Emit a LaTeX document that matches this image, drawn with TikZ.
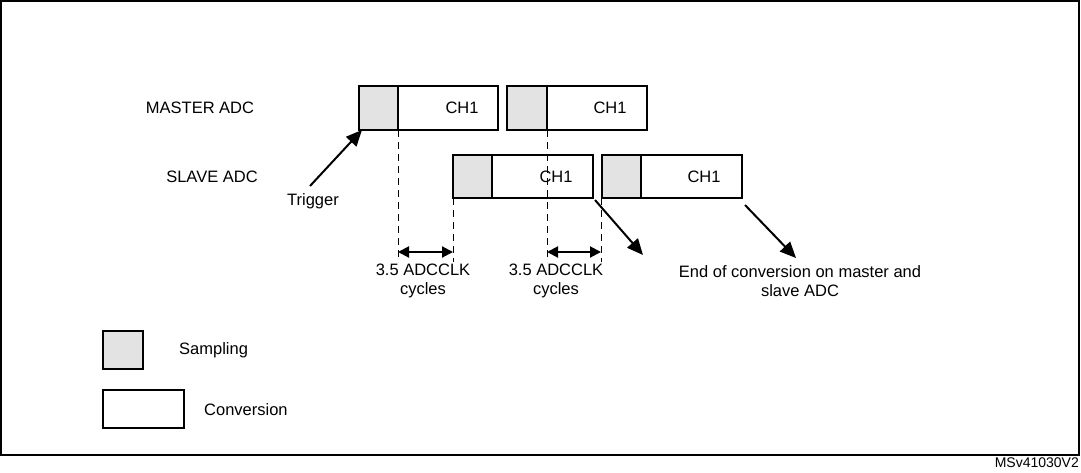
\documentclass[tikz,border=0pt]{standalone}
\usepackage{fontspec}
\setmainfont{Liberation Sans}
\usetikzlibrary{arrows.meta}
\begin{document}
\begin{tikzpicture}[x=1pt,y=-1pt,
  box/.style={draw,line width=2pt},
  samp/.style={box,fill=gray!22},
  dashln/.style={dash pattern=on 7pt off 5pt,line width=1pt},
  arr/.style={line width=2pt,-{Triangle[length=16pt,width=14pt]}},
  dim/.style={line width=2pt,{Triangle[length=11pt,width=11pt]}-{Triangle[length=11pt,width=11pt]}},
  lbl/.style={font=\fontsize{16.5}{19}\selectfont,align=center,inner sep=0}]
\useasboundingbox (0,0) rectangle (1081,472);
\draw[line width=1.2pt] (1,1) rectangle (1079,455);
% master
\draw[samp] (359,86) rectangle (398,130);
\draw[box] (398,86) rectangle (498,130);
\node[lbl] (m1) at (462,108) {CH1};
\draw[samp] (507,86) rectangle (547,130);
\draw[box] (547,86) rectangle (647,130);
\node[lbl] (m2) at (610,108) {CH1};
% slave
\draw[samp] (453,155) rectangle (492,198);
\draw[box] (492,155) rectangle (593,198);
\node[lbl] (s1) at (556,177) {CH1};
\draw[samp] (602,155) rectangle (641,198);
\draw[box] (641,155) rectangle (742,198);
\node[lbl] (s2) at (704,177) {CH1};
% dashed
\draw[dashln] (398,130) -- (398,262);
\draw[dashln] (453,198) -- (453,262);
\draw[dashln] (547,130) -- (547,262);
\draw[dashln] (601,198) -- (601,262);
\coordinate (d1) at (398,252); \coordinate (d2) at (453,252);
\coordinate (d3) at (547,252); \coordinate (d4) at (601,252);
\draw[dim] (d1) -- (d2);
\draw[dim] (d3) -- (d4);
% labels
\node[lbl] (ma) at (200,108) {MASTER ADC};
\node[lbl] (sa) at (212,177) {SLAVE ADC};
\node[lbl] (tr) at (313,201) {Trigger};
\coordinate (t0) at (310,186); \coordinate (t1) at (362,130);
\draw[arr] (t0) -- (t1);
\node[lbl] (c1) at (423,281) {3.5 ADCCLK\\cycles};
\node[lbl] (c2) at (556,281) {3.5 ADCCLK\\cycles};
\node[lbl] (eoc) at (800,281) {End of conversion on master and\\slave ADC};
\coordinate (e0) at (595,200); \coordinate (e1) at (643,255);
\coordinate (e2) at (745,205); \coordinate (e3) at (796,258);
\draw[arr] (e0) -- (e1);
\draw[arr] (e2) -- (e3);
% legend
\draw[samp,line width=1.3pt] (103,331) rectangle (143,369);
\node[lbl,anchor=west] (ls) at (179,350) {Sampling};
\draw[box,line width=1.3pt] (103,390) rectangle (184,428);
\node[lbl,anchor=west] (lc) at (204,410) {Conversion};
\node[lbl,anchor=east,font=\fontsize{14}{16}\selectfont] (id) at (1079,463) {MSv41030V2};
\end{tikzpicture}
\end{document}
